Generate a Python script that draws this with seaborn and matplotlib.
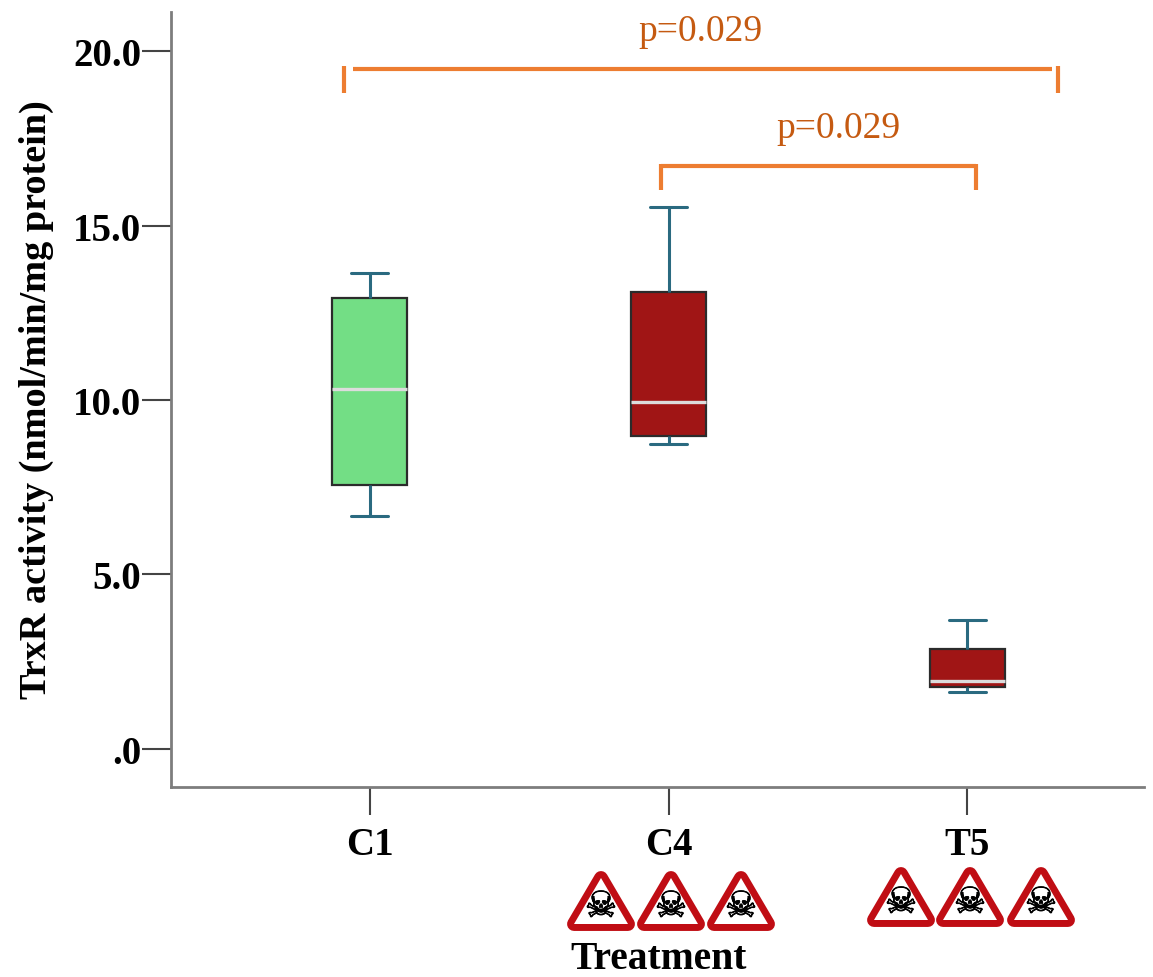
import matplotlib
matplotlib.use("Agg")
import matplotlib.patheffects as pe
import matplotlib.pyplot as plt
import pandas as pd
import seaborn as sns
from matplotlib.lines import Line2D
from matplotlib.patches import Polygon

W, H = 1153, 978

treatments = ["C1", "C4", "T5"]
# min, q1, median, q3, max
c1_values = [6.68, 7.56, 10.32, 12.92, 13.64]
c4_values = [8.73, 8.98, 9.95, 13.10, 15.54]
t5_values = [1.63, 1.78, 1.95, 2.87, 3.70]
box_colors = ["#73de85", "#a01515"]
y_ticks = [0, 5, 10, 15, 20]
y_tick_labels = [".0", "5.0", "10.0", "15.0", "20.0"]
p_labels = ["p=0.029", "p=0.029"]

sns.set_theme(style="white")
plt.rcParams["font.family"] = ["Liberation Serif", "DejaVu Sans"]

df = pd.DataFrame({
    "treatment": ["C1"] * 5 + ["C4"] * 5 + ["T5"] * 5,
    "activity": c1_values + c4_values + t5_values,
})

fig = plt.figure(figsize=(W / 100, H / 100), dpi=100, facecolor="white")
ax = fig.add_axes([170.5 / W, 1 - 788 / H, (1143 - 170) / W, (788 - 13) / H])


def fx(x):
    return x / W


def fy(y):
    return 1 - y / H


sns.boxplot(
    data=df, x="treatment", y="activity", hue="treatment", order=treatments,
    palette={"C1": box_colors[0], "C4": box_colors[1], "T5": box_colors[1]},
    width=0.25, saturation=1, legend=False, ax=ax,
    boxprops={"edgecolor": "#2b2b2b", "linewidth": 1.6},
    whiskerprops={"color": "#2a6a80", "linewidth": 2.2},
    capprops={"color": "#2a6a80", "linewidth": 2.2},
    medianprops={"color": "#dcdcdc", "linewidth": 2.4},
)

ax.set_xlim(-0.666, 2.589)
ax.set_ylim(-1.09, 21.12)
ax.set_yticks(y_ticks)
ax.set_yticklabels(y_tick_labels)

for side in ["top", "right"]:
    ax.spines[side].set_visible(False)
for side in ["left", "bottom"]:
    ax.spines[side].set_color("#7d7d7d")
    ax.spines[side].set_linewidth(2.0)

ax.tick_params(axis="y", length=21, width=1.5, color="#444444", pad=0, left=True)
ax.tick_params(axis="x", length=20, width=1.5, color="#444444", pad=8, bottom=True)
for lab in ax.get_xticklabels() + ax.get_yticklabels():
    lab.set_fontsize(28)
    lab.set_fontweight("bold")
    lab.set_color("black")

ax.set_xlabel("Treatment", fontsize=28.5, fontweight="bold", color="black", va="center")
ax.set_ylabel("TrxR activity (nmol/min/mg protein)", fontsize=27.5, fontweight="bold",
              color="black", va="center")
ax.xaxis.set_label_coords((658 - 170) / 973, -(959.5 - 788) / 775)
ax.yaxis.set_label_coords((36 - 170) / 973, (788 - 400) / 775)

# significance brackets
orange = "#ed7d31"
def seg(x0, y0, x1, y1, lw=3.0):
    fig.add_artist(Line2D([fx(x0), fx(x1)], [fy(y0), fy(y1)], color=orange, lw=lw,
                          solid_capstyle="butt"))


seg(344, 67, 344, 94)
seg(353, 69.5, 1052, 69.5)
seg(1058, 67, 1058, 94)
seg(661, 166.5, 976, 166.5)
seg(661, 165, 661, 191)
seg(976, 165, 976, 191)

fig.text(fx(700), fy(32), p_labels[0], fontsize=27, color="#c55a11", ha="center", va="center")
fig.text(fx(838), fy(129), p_labels[1], fontsize=27, color="#c55a11", ha="center", va="center")


# hazard triangles under the exposed groups
def hazard(cx, top):
    pts = [(cx, top + 7), (cx + 27, top + 53), (cx - 27, top + 53)]
    pts = [(fx(a), fy(b)) for a, b in pts]
    fig.add_artist(Polygon(pts, closed=True, transform=fig.transFigure, facecolor="#c00d14",
                           edgecolor="#c00d14", linewidth=10, joinstyle="round"))
    fig.add_artist(Polygon(pts, closed=True, transform=fig.transFigure, facecolor="white",
                           edgecolor="none"))
    fig.text(fx(cx), fy(top + 36), "\u2620", fontsize=26, color="black",
             family="DejaVu Sans", ha="center", va="center",
             path_effects=[pe.withStroke(linewidth=0.6, foreground="black")])


for cx in [601, 671, 741]:
    hazard(cx, 872)
for cx in [901, 970, 1041]:
    hazard(cx, 868)

fig.savefig("out.png", dpi=100)
